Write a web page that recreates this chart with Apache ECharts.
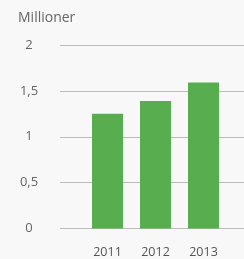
<!DOCTYPE html>
<html><head><meta charset="utf-8">
<script src="https://cdn.jsdelivr.net/npm/echarts@6/dist/echarts.min.js"></script>
<style>html,body{margin:0;padding:0;background:#f8f8f8}#c{width:244px;height:259px}</style>
</head><body><div id="c"></div>
<script>
const categories = ['2011', '2012', '2013'];
const values = [1.25, 1.39, 1.59];
const yTicks = [0, 0.5, 1, 1.5, 2];
const unitLabel = 'Millioner';

const chart = echarts.init(document.getElementById('c'));
chart.setOption({
  backgroundColor: '#f8f8f8',
  animation: false,
  title: { text: unitLabel, left: 13, top: 6, textStyle: { fontFamily: 'Open Sans', fontSize: 14, fontWeight: 'normal', color: '#666' } },
  grid: [
    { left: 60, right: 0, top: 45, bottom: 30.5 },
    { left: 83.5, right: 16.5, top: 45, bottom: 30.5 }
  ],
  xAxis: [
    { gridIndex: 0, type: 'category', data: categories, show: false },
    { gridIndex: 1, type: 'category', data: categories,
      axisLine: { show: false }, axisTick: { show: false },
      axisLabel: { margin: 17, fontFamily: 'Open Sans', fontSize: 12.5, color: '#555' } }
  ],
  yAxis: [
    { gridIndex: 0, type: 'value', min: yTicks[0], max: yTicks[yTicks.length - 1], interval: 0.5,
      axisLine: { show: false }, axisTick: { show: false },
      axisLabel: { align: 'center', margin: 31, fontFamily: 'Open Sans', fontSize: 13, color: '#666',
        formatter: v => String(v).replace('.', ',') },
      splitLine: { lineStyle: { color: '#bbb', width: 1 } } },
    { gridIndex: 1, type: 'value', min: yTicks[0], max: yTicks[yTicks.length - 1], show: false }
  ],
  series: [{
    type: 'bar', xAxisIndex: 1, yAxisIndex: 1, data: values, barWidth: 31,
    itemStyle: { color: '#58ad4f' }
  }]
});
</script></body></html>
